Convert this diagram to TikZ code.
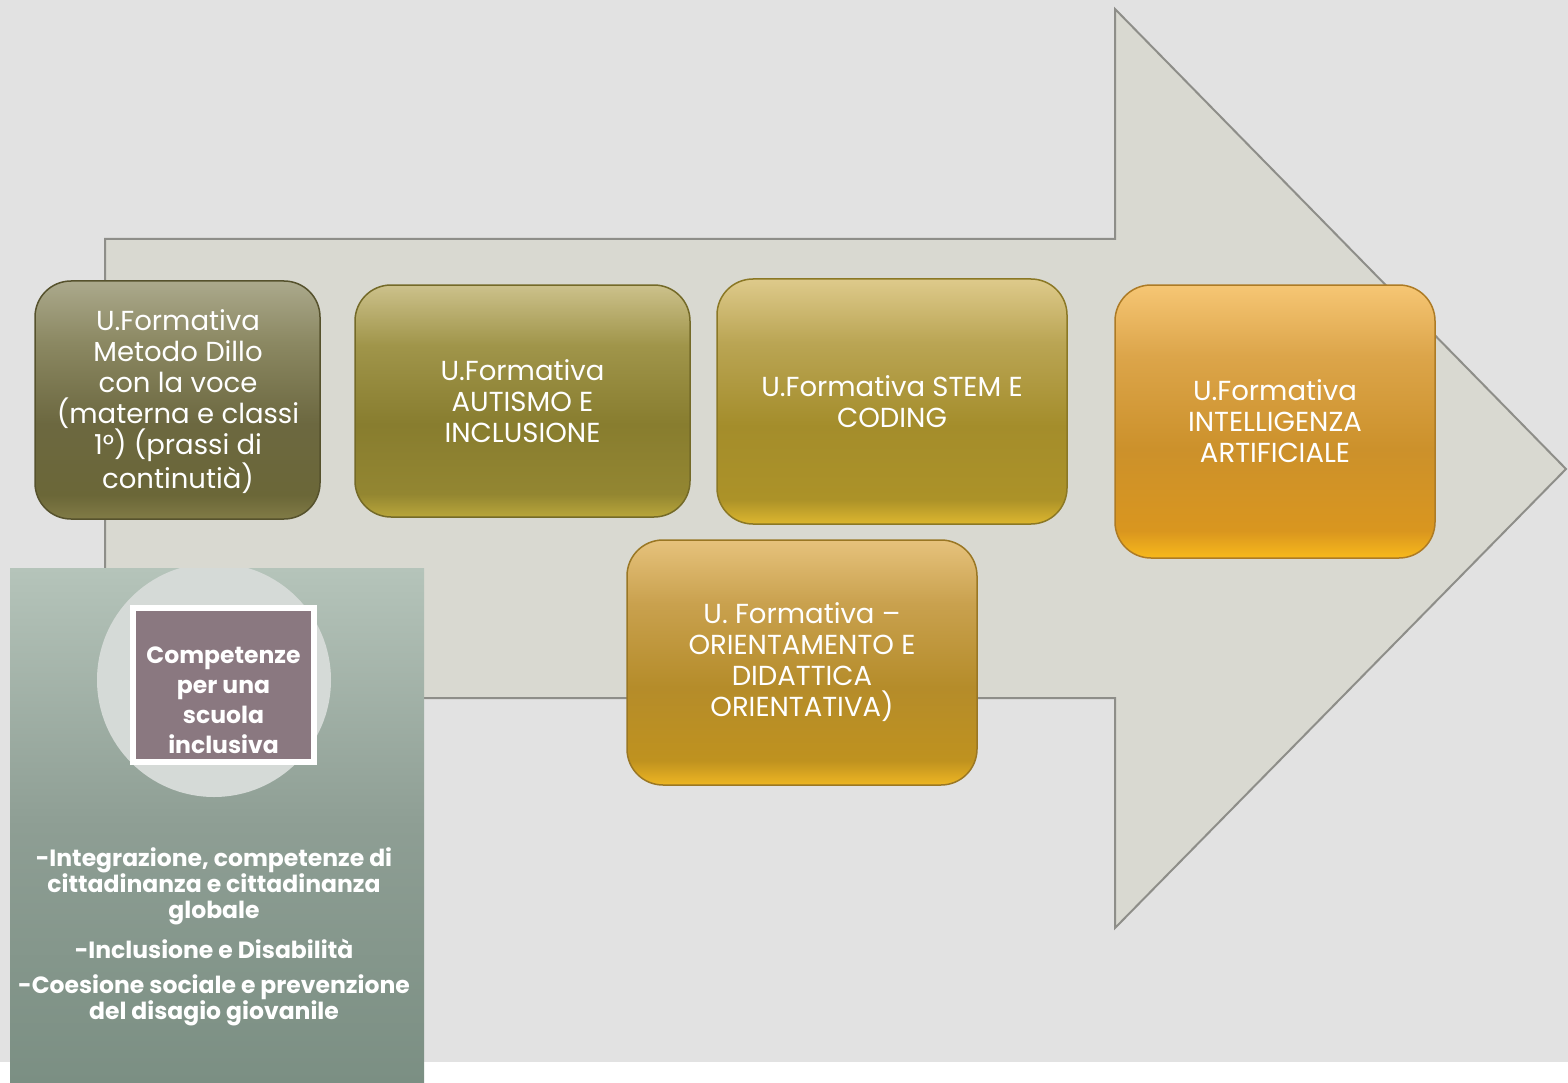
\documentclass[tikz,border=0pt]{standalone}
\usepackage{fontspec}
\setmainfont{Poppins}
\definecolor{bg}{HTML}{E2E2E2}
\definecolor{arrowfill}{HTML}{D9D9D1}
\definecolor{arrowline}{HTML}{8E8E89}
% box 1
\definecolor{aA}{HTML}{ABA98C}\definecolor{aB}{HTML}{8B8862}\definecolor{aC}{HTML}{6C6840}\definecolor{aD}{HTML}{6B6738}\definecolor{aE}{HTML}{817B46}
% box 2
\definecolor{bA}{HTML}{CCC18B}\definecolor{bB}{HTML}{A0954A}\definecolor{bC}{HTML}{887D2F}\definecolor{bD}{HTML}{938631}\definecolor{bE}{HTML}{B9A63A}
% box 3
\definecolor{cA}{HTML}{DECA8B}\definecolor{cB}{HTML}{BAA554}\definecolor{cC}{HTML}{A48D2B}\definecolor{cD}{HTML}{AC9228}\definecolor{cE}{HTML}{DDB72F}
% box 4
\definecolor{dA}{HTML}{F6C674}\definecolor{dB}{HTML}{DCA54A}\definecolor{dC}{HTML}{CC912B}\definecolor{dD}{HTML}{D9961F}\definecolor{dE}{HTML}{F8B91B}
% box 5
\definecolor{eA}{HTML}{E6C27C}\definecolor{eB}{HTML}{C9A14E}\definecolor{eC}{HTML}{B58C2A}\definecolor{eD}{HTML}{BF921F}\definecolor{eE}{HTML}{EEB623}
\definecolor{panelA}{HTML}{B5C4BA}\definecolor{panelB}{HTML}{8E9E94}\definecolor{panelC}{HTML}{7B8F83}
\definecolor{circ}{HTML}{D5DAD7}
\definecolor{sq}{HTML}{8A7880}
\pgfdeclareverticalshading{shA}{100bp}{color(0bp)=(aE); color(25bp)=(aE); color(30bp)=(aD); color(45bp)=(aC); color(62bp)=(aB); color(75bp)=(aA); color(100bp)=(aA)}
\pgfdeclareverticalshading{shB}{100bp}{color(0bp)=(bE); color(25bp)=(bE); color(30bp)=(bD); color(45bp)=(bC); color(62bp)=(bB); color(75bp)=(bA); color(100bp)=(bA)}
\pgfdeclareverticalshading{shC}{100bp}{color(0bp)=(cE); color(25bp)=(cE); color(30bp)=(cD); color(45bp)=(cC); color(62bp)=(cB); color(75bp)=(cA); color(100bp)=(cA)}
\pgfdeclareverticalshading{shD}{100bp}{color(0bp)=(dE); color(25bp)=(dE); color(30bp)=(dD); color(45bp)=(dC); color(62bp)=(dB); color(75bp)=(dA); color(100bp)=(dA)}
\pgfdeclareverticalshading{shE}{100bp}{color(0bp)=(eE); color(25bp)=(eE); color(30bp)=(eD); color(45bp)=(eC); color(62bp)=(eB); color(75bp)=(eA); color(100bp)=(eA)}
\pgfdeclareverticalshading{shP}{100bp}{color(0bp)=(panelC); color(25bp)=(panelC); color(50bp)=(panelB); color(75bp)=(panelA); color(100bp)=(panelA)}
\tikzset{
  ubox/.style={rectangle, rounded corners=36pt, line width=1.5pt, text=white,
    align=center, inner sep=0pt, font=\fontsize{27.5}{31}\selectfont},
  bigarrow/.style={fill=arrowfill, draw=arrowline, line width=2pt, line join=miter},
  paneltext/.style={text=white, align=center, inner sep=0pt, font=\bfseries\fontsize{23.5}{26}\selectfont},
}
\begin{document}
\begin{tikzpicture}[x=1pt,y=-1pt]
\useasboundingbox (0,0) rectangle (1568,1083);
\fill[white] (0,0) rectangle (1568,1083);
\fill[bg] (0,0) rectangle (1568,1062);
% big arrow
\draw[bigarrow] (105,239) -- (1115,239) -- (1115,9) -- (1566,469) -- (1115,928) -- (1115,698) -- (105,698) -- cycle;
% boxes
\node[ubox, draw=aD!80!black, shading=shA, minimum width=285pt, minimum height=238pt] (b1) at (177.5,400) {};
\node[text=white, align=center, inner sep=0pt, font=\fontsize{27.5}{31}\selectfont] (t1) at (178,402) {U.Formativa\\Metodo Dillo\\con la voce\\(materna e classi\\1°) (prassi di\\continutià)};
\node[ubox, draw=bC!85!black, shading=shB, minimum width=335pt, minimum height=232pt] (b2) at (522.5,401) {U.Formativa\\AUTISMO E\\INCLUSIONE};
\node[ubox, draw=cC!85!black, shading=shC, minimum width=350pt, minimum height=245pt] (b3) at (892,401.5) {U.Formativa STEM E\\CODING};
\node[ubox, draw=dC!85!black, shading=shD, minimum width=320pt, minimum height=273pt] (b4) at (1275,421.5) {U.Formativa\\INTELLIGENZA\\ARTIFICIALE};
\node[ubox, draw=eC!85!black, shading=shE, minimum width=350pt, minimum height=245pt] (b5) at (802,662.5) {U. Formativa –\\ORIENTAMENTO E\\DIDATTICA\\ORIENTATIVA)};
% left panel
\shade[shading=shP] (10,568) rectangle (424,1083);
\begin{scope}
\clip (10,568) rectangle (424,1083);
\fill[circ] (214,680) circle (117);
\end{scope}
\node[draw=white, line width=6pt, fill=sq, minimum width=181pt, minimum height=154pt, inner sep=0pt] (sq) at (223.5,685) {};
\node[text=white, align=center, inner sep=0pt, font=\bfseries\fontsize{23.5}{30}\selectfont] (sqt) at (223.5,700) {Competenze\\per una\\scuola\\inclusiva};
\node[paneltext] (p1) at (214,886) {-Integrazione, competenze di\\cittadinanza e cittadinanza\\globale};
\node[paneltext] (p2) at (214,949) {-Inclusione e Disabilità};
\node[paneltext] (p3) at (214,1000) {-Coesione sociale e prevenzione\\del disagio giovanile};
\end{tikzpicture}
\end{document}
